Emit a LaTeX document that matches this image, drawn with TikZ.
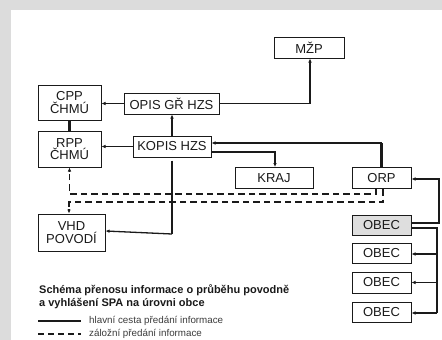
\documentclass[tikz,border=0pt]{standalone}
\usepackage{fontspec}
\setmainfont{Liberation Sans}
\usetikzlibrary{arrows.meta,calc}
\definecolor{bggray}{HTML}{DCDCDC}
\definecolor{obecgray}{HTML}{DEDEDE}
\definecolor{ink}{HTML}{1A1A1A}
\begin{document}
\begin{tikzpicture}[x=1pt,y=-1pt,
  box/.style={draw=ink,line width=1pt,fill=white,inner sep=0pt,align=center,
    font=\fontsize{13}{13.5}\selectfont,text=ink},
  conn/.style={draw=ink,line width=1.3pt,-{Latex[length=4pt,width=3.6pt]}},
  plain/.style={draw=ink,line width=1.3pt},
  heavy/.style={draw=ink,line width=2.2pt},
  backup/.style={draw=ink,line width=1.7pt,dash pattern=on 6.5pt off 4pt},
  lbl/.style={inner sep=0pt,anchor=west,text=ink}]
\useasboundingbox (0,0) rectangle (442,340);
\fill[bggray] (0,0) rectangle (442,340);
\fill[white] (11,10) rectangle (442,340);

% nodes
\node[box,minimum width=70pt,minimum height=21pt] (mzp) at (309,47.5) {MŽP};
\node[box,minimum width=63pt,minimum height=35pt] (cpp) at (69.5,102.5) {CPP\\[-1pt]ČHMÚ};
\node[box,minimum width=95pt,minimum height=21pt] (opis) at (171.5,103.5) {OPIS GŘ HZS};
\node[box,minimum width=63pt,minimum height=36pt] (rpp) at (69.5,149) {RPP\\[-1pt]ČHMÚ};
\node[box,minimum width=78pt,minimum height=21pt] (kopis) at (172,146.5) {KOPIS HZS};
\node[box,minimum width=78pt,minimum height=21pt] (kraj) at (274,178) {KRAJ};
\node[box,minimum width=59pt,minimum height=21pt] (orp) at (381.5,178) {ORP};
\node[box,minimum width=67pt,minimum height=37pt] (vhd) at (71.5,232.5) {VHD\\[-1pt]POVODÍ};
\node[box,fill=obecgray,minimum width=59pt,minimum height=20pt] (obec1) at (381.5,225) {OBEC};
\node[box,minimum width=59pt,minimum height=20pt] (obec2) at (381.5,253) {OBEC};
\node[box,minimum width=59pt,minimum height=21pt] (obec3) at (381.5,282.5) {OBEC};
\node[box,minimum width=59pt,minimum height=20pt] (obec4) at (381.5,312) {OBEC};

% helper coordinates
\coordinate (ydashA) at (0,194);
\coordinate (ydashB) at (0,202);
\coordinate (xright) at (439,0);
\coordinate (xbranch) at (437,0);
\coordinate (mzpturn) at (310,0);
\coordinate (krajturn) at (275,0);

% main connectors
\draw[conn] (opis.west) -- (opis.west -| cpp.east);
\draw[conn] (opis.east) -| (mzpturn |- mzp.south);
\draw[heavy] (cpp.south) -- (rpp.north);
\draw[conn] (kopis.north) -- (kopis.north |- opis.south);
\draw[conn] (kopis.west) -- (kopis.west -| rpp.east);
\coordinate (kin) at ([yshift=3.5pt]kopis.east);
\draw[heavy] (orp.north) -- (orp.north |- kin);
\draw[conn] (orp.north |- kin) -- (kin);
\coordinate (kout) at ([yshift=-5.5pt]kopis.east);
\draw[heavy] (kout) -- (kout -| krajturn) -- ([yshift=2pt]krajturn |- kraj.north);
\draw[conn] ([yshift=2pt]krajturn |- kraj.north) -- (krajturn |- kraj.north);
\coordinate (vin) at ([yshift=1.5pt]vhd.east);
\draw[heavy] ([yshift=-3pt]kopis.south) -- ([yshift=-3pt]kopis.south |- vin);
\draw[conn] ([yshift=-3pt]kopis.south |- vin) -- (vin);

% backup (dashed) connectors
\coordinate (orpA) at ([xshift=-5.5pt]orp.south);
\coordinate (orpB) at ([xshift=1.5pt]orp.south);
\draw[backup] (orpA) -- (orpA |- ydashA) -- (rpp.south |- ydashA) -- ([yshift=-4pt]rpp.south);
\draw[conn] ([yshift=-4.5pt]rpp.south) -- (rpp.south);
\coordinate (vtop) at ([xshift=-2.5pt]vhd.north);
\draw[backup] (orpB) -- (orpB |- ydashB) -- (vtop |- ydashB) -- ([yshift=4pt]vtop);
\draw[conn] ([yshift=4.5pt]vtop) -- (vtop);

% OBEC connections
\coordinate (o1a) at ([yshift=2pt]obec1.east);
\coordinate (o1b) at ([yshift=-3pt]obec1.east);
\coordinate (orpin) at ([yshift=-1pt]orp.east);
\draw[heavy] (o1a) -- (o1a -| xright) -- (xright |- orpin) -- ([xshift=4pt]orpin);
\draw[conn] ([xshift=4.5pt]orpin) -- (orpin);
\draw[plain] (o1b) -- (o1b -| xbranch) -- ([yshift=-1pt]xbranch |- obec4.east);
\draw[conn] ([yshift=-1pt]xbranch |- obec2.east) -- ([yshift=-1pt]obec2.east);
\draw[conn] (xbranch |- obec3.east) -- (obec3.east);
\draw[conn] ([yshift=-1pt]xbranch |- obec4.east) -- ([yshift=-1pt]obec4.east);

% legend
\node[lbl,anchor=north west,align=left,font=\fontsize{11}{13}\selectfont\bfseries] (title) at (39,284.5)
  {Schéma přenosu informace o průběhu povodně\\a vyhlášení SPA na úrovni obce};
\coordinate (l1a) at (38,321);
\coordinate (l1b) at (81,321);
\coordinate (l2a) at (38,334);
\coordinate (l2b) at (81,334);
\draw[plain] (l1a) -- (l1b);
\draw[backup,dash pattern=on 6pt off 4pt] (l2a) -- (l2b);
\node[lbl,font=\fontsize{9.8}{11}\selectfont,text=ink!85] (leg1) at (89,321) {hlavní cesta předání informace};
\node[lbl,font=\fontsize{9.8}{11}\selectfont,text=ink!85] (leg2) at (89,334) {záložní předání informace};
\end{tikzpicture}
\end{document}
